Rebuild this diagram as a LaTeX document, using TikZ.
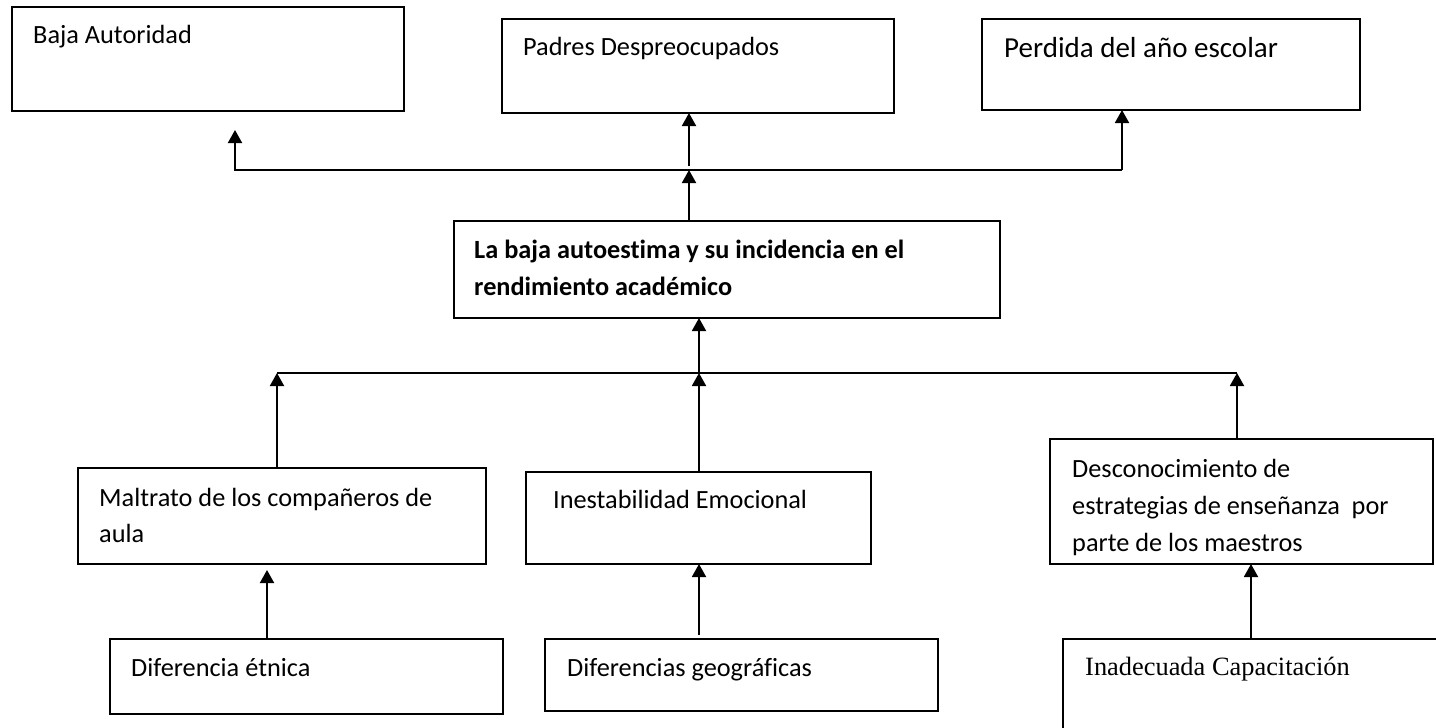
\documentclass[tikz,border=0pt]{standalone}
\usepackage{fontspec}
\setmainfont{Carlito}[Ligatures=NoCommon]
\newfontfamily\timesfont{Liberation Serif}
\usetikzlibrary{arrows.meta}
\begin{document}
\begin{tikzpicture}[x=1pt,y=-1pt,
  box/.style={draw, line width=1.7pt, inner sep=0pt, outer sep=0pt, anchor=north west},
  txt/.style={inner sep=0pt, anchor=base west, align=left, font=\fontsize{26.3pt}{37.3pt}\selectfont},
  arr/.style={line width=1.9pt, -{Triangle[length=13pt,width=14pt]}},
  ln/.style={line width=1.7pt}]
\useasboundingbox[fill=white] (0,0) rectangle (1436,728);
\clip (0,0) rectangle (1436,728);
% boxes
\node[box, minimum width=392pt, minimum height=104pt] (b1) at (12,7) {};
\node[box, minimum width=392pt, minimum height=94pt] (b2) at (502,19) {};
\node[box, minimum width=378pt, minimum height=91pt] (b3) at (982,19) {};
\node[box, minimum width=546pt, minimum height=97pt] (c) at (454,221) {};
\node[box, minimum width=408pt, minimum height=96pt] (m1) at (78,468) {};
\node[box, minimum width=345pt, minimum height=92pt] (m2) at (526,472) {};
\node[box, minimum width=383pt, minimum height=125pt] (m3) at (1050,439) {};
\node[box, minimum width=393pt, minimum height=75pt] (l1) at (110,639) {};
\node[box, minimum width=393pt, minimum height=72pt] (l2) at (545,639) {};
\node[box, minimum width=500pt, minimum height=200pt] (l3) at (1063,639) {};
% texts (multi-line nodes are placed at the baseline of their last line)
\node[txt] (t1) at (33,43) {Baja Autoridad};
\node[txt] (t2) at (523,55) {Padres Despreocupados};
\node[txt, font=\fontsize{29pt}{37pt}\selectfont] (t3) at (1004,57) {Perdida del año escolar};
\node[txt, font=\fontsize{26.3pt}{37pt}\selectfont\bfseries] (tc) at (474,295) {La baja autoestima y su incidencia en el\\rendimiento académico};
\node[txt, font=\fontsize{26.3pt}{36pt}\selectfont] (tm1) at (99,542) {Maltrato de los compañeros de\\aula};
\node[txt] (tm2) at (553,508) {Inestabilidad Emocional};
\node[txt, font=\fontsize{26.3pt}{37pt}\selectfont] (tm3) at (1072,551) {Desconocimiento de\\estrategias de enseñanza~ por\\parte de los maestros};
\node[txt] (tl1) at (131,676) {Diferencia étnica};
\node[txt] (tl2) at (567,676) {Diferencias geográficas};
\node[txt, font=\fontsize{26.4pt}{32pt}\selectfont\timesfont] (tl3) at (1085,675) {Inadecuada Capacitación};
% top connectors
\coordinate (jt) at (689,170);
\coordinate (jtu) at (689,166);
\coordinate (jl) at (235,170);
\coordinate (jr) at (1122,170);
\coordinate (b1tip) at (235,130);
\draw[arr] (jt |- c.north) -- (jt);
\draw[arr] (jtu) -- (jtu |- b2.south);
\draw[arr] (jr) -- (jl) -- (b1tip);
\draw[arr] (jr) -- (jr |- b3.south);
% bottom connectors
\coordinate (kc) at (699,373);
\coordinate (kl) at (277,373);
\coordinate (kr) at (1237,373);
\draw[arr] (kc) -- (kc |- c.south);
\draw[ln] (kl) -- (kr);
\draw[arr] (kl |- m1.north) -- (kl);
\draw[arr] (kc |- m2.north) -- (kc);
\draw[arr] (kr |- m3.north) -- (kr);
\coordinate (a1) at (267,570);
\coordinate (a2) at (699,635);
\coordinate (a3) at (1251,639);
\draw[arr] (a1 |- l1.north) -- (a1);
\draw[arr] (a2) -- (a2 |- m2.south);
\draw[arr] (a3 |- l3.north) -- (a3 |- m3.south);
\end{tikzpicture}
\end{document}
